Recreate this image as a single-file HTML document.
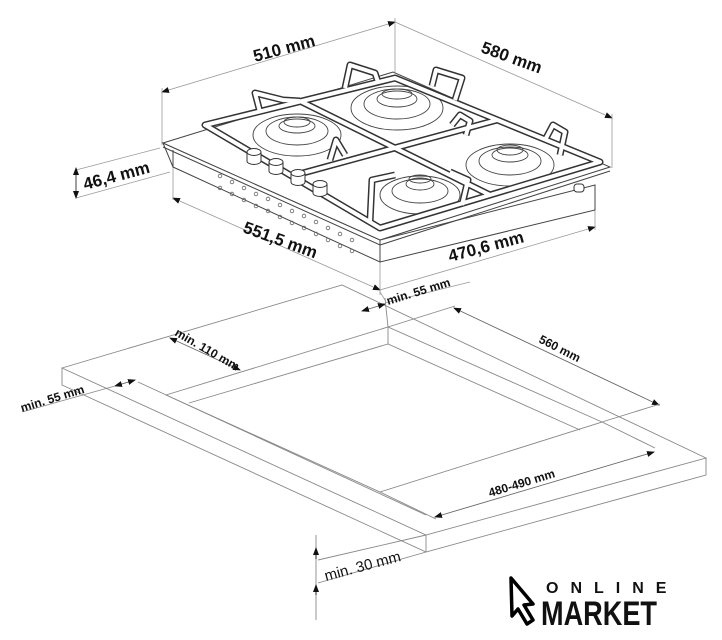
<!DOCTYPE html>
<html><head><meta charset="utf-8"><style>
html,body{margin:0;padding:0;background:#fff;}
svg{display:block;}
text{font-family:"Liberation Sans",Arial,sans-serif;fill:#111;}
</style></head><body>
<svg width="722" height="640" viewBox="0 0 722 640" xmlns="http://www.w3.org/2000/svg">
<defs>
<marker id="a" markerWidth="8" markerHeight="8" refX="7" refY="4" orient="auto-start-reverse" markerUnits="userSpaceOnUse"><path d="M0,1 L8,4 L0,7 z" fill="#111"/></marker>
</defs>
<g stroke="#999" stroke-width="0.8" fill="none">
<line x1="162" y1="92" x2="395" y2="22" marker-start="url(#a)" marker-end="url(#a)"/>
<line x1="395" y1="22" x2="612" y2="118" marker-end="url(#a)"/>
<line x1="162" y1="88" x2="162" y2="145"/>
<line x1="395" y1="18" x2="395" y2="72"/>
<line x1="612" y1="114" x2="612" y2="168"/>
<line x1="173" y1="198" x2="380" y2="290" marker-start="url(#a)" marker-end="url(#a)"/>
<line x1="380" y1="290" x2="595" y2="227" marker-end="url(#a)"/>
<line x1="173" y1="167" x2="173" y2="200"/>
<line x1="380" y1="262" x2="380" y2="295"/>
<line x1="595" y1="210" x2="595" y2="230"/>
<line x1="76" y1="170" x2="160" y2="148"/>
<line x1="76" y1="198" x2="170" y2="172"/>
<line x1="76" y1="168" x2="76" y2="198" marker-start="url(#a)" marker-end="url(#a)" stroke="#111"/>
<line x1="380" y1="292" x2="385" y2="300"/>
<line x1="385" y1="303" x2="470" y2="282"/>
</g>
<g stroke="#444" stroke-width="1" fill="#fff">
<polygon points="173,167 380,262 595,210 595,185 380,240 163,143"/>
<polygon points="163,143 393,72 610,167 380,240"/>
<polyline points="163,147 380,245 610,171" fill="none"/>
<line x1="380" y1="240" x2="380" y2="262"/>
<line x1="173" y1="150" x2="173" y2="167"/>
</g>
<g fill="none" stroke="#666" stroke-width="0.8">
<circle cx="220" cy="176" r="1.8"/><circle cx="232" cy="182" r="1.8"/><circle cx="244" cy="188" r="1.8"/><circle cx="256" cy="194" r="1.8"/><circle cx="268" cy="199" r="1.8"/><circle cx="280" cy="205" r="1.8"/><circle cx="292" cy="211" r="1.8"/><circle cx="304" cy="216" r="1.8"/><circle cx="316" cy="222" r="1.8"/><circle cx="328" cy="228" r="1.8"/><circle cx="340" cy="234" r="1.8"/><circle cx="352" cy="240" r="1.8"/>
<circle cx="220" cy="188" r="1.8"/><circle cx="232" cy="194" r="1.8"/><circle cx="244" cy="200" r="1.8"/><circle cx="256" cy="206" r="1.8"/><circle cx="268" cy="211" r="1.8"/><circle cx="280" cy="217" r="1.8"/><circle cx="292" cy="223" r="1.8"/><circle cx="304" cy="228" r="1.8"/><circle cx="316" cy="234" r="1.8"/><circle cx="328" cy="240" r="1.8"/><circle cx="340" cy="246" r="1.8"/><circle cx="352" cy="251" r="1.8"/>
</g>
<g fill="none" stroke="#444" stroke-width="0.9">
<ellipse cx="397" cy="108" rx="46" ry="22"/><ellipse cx="397" cy="104" rx="33" ry="15"/><ellipse cx="397" cy="99" rx="20" ry="8"/><ellipse cx="397" cy="94" rx="15" ry="5"/>
<ellipse cx="297" cy="135" rx="44" ry="21"/><ellipse cx="297" cy="131" rx="31" ry="14"/><ellipse cx="297" cy="126" rx="18" ry="7"/><ellipse cx="297" cy="122" rx="13" ry="5"/>
<ellipse cx="510" cy="165" rx="44" ry="21"/><ellipse cx="510" cy="161" rx="31" ry="14"/><ellipse cx="510" cy="155" rx="18" ry="7"/><ellipse cx="510" cy="150" rx="13" ry="5"/>
<ellipse cx="420" cy="195" rx="40" ry="19"/><ellipse cx="420" cy="191" rx="28" ry="12"/><ellipse cx="420" cy="184" rx="14" ry="6"/><ellipse cx="420" cy="179" rx="11" ry="4"/>
</g>
<g fill="none" stroke-linejoin="round">
<g stroke="#333" stroke-width="7">
<polygon points="205,125 395,78 600,162 380,228"/>
<line x1="300" y1="101" x2="490" y2="195"/>
<line x1="497" y1="120" x2="292" y2="176"/>
<polyline points="260,112 255,93 283,100 300,101"/>
<polyline points="345,88 350,65 375,73 378,82"/>
<polyline points="432,86 436,70 462,78 455,100"/>
<polyline points="545,140 553,125 565,132 560,155"/>
<polyline points="452,125 460,115 470,121 466,135"/>
<polyline points="370,222 372,180 395,175"/>
<polyline points="462,205 468,180 450,172"/>
<polyline points="330,160 336,140 345,155"/>
</g>
<g stroke="#fff" stroke-width="4">
<polygon points="205,125 395,78 600,162 380,228"/>
<line x1="300" y1="101" x2="490" y2="195"/>
<line x1="497" y1="120" x2="292" y2="176"/>
<polyline points="260,112 255,93 283,100 300,101"/>
<polyline points="345,88 350,65 375,73 378,82"/>
<polyline points="432,86 436,70 462,78 455,100"/>
<polyline points="545,140 553,125 565,132 560,155"/>
<polyline points="452,125 460,115 470,121 466,135"/>
<polyline points="370,222 372,180 395,175"/>
<polyline points="462,205 468,180 450,172"/>
<polyline points="330,160 336,140 345,155"/>
</g>
</g>
<g stroke="#333" stroke-width="1" fill="#fff">
<path d="M247,152 v9 a7,3.5 0 0 0 14,0 v-9"/><ellipse cx="254" cy="152" rx="7" ry="3.5"/>
<path d="M269,162 v9 a7,3.5 0 0 0 14,0 v-9"/><ellipse cx="276" cy="162" rx="7" ry="3.5"/>
<path d="M291,173 v9 a7,3.5 0 0 0 14,0 v-9"/><ellipse cx="298" cy="173" rx="7" ry="3.5"/>
<path d="M313,184 v9 a7,3.5 0 0 0 14,0 v-9"/><ellipse cx="320" cy="184" rx="7" ry="3.5"/>
<rect x="574" y="184" width="10" height="8" rx="3"/>
</g>
<g stroke="#888" stroke-width="0.9" fill="none">
<polygon points="62,368 342,285 706,458 426,535" fill="#fff"/>
<polyline points="62,368 62,385 426,552 706,475 706,458"/>
<line x1="426" y1="535" x2="426" y2="552"/>
<polygon points="166,395 388,327 602,422 380,492"/>
<line x1="388" y1="327" x2="388" y2="344"/>
<polyline points="189,403 388,344 580,430"/>
<line x1="454" y1="308" x2="659" y2="405" marker-start="url(#a)" marker-end="url(#a)" stroke="#666"/>
<line x1="388" y1="327" x2="455" y2="306"/>
<line x1="602" y1="422" x2="660" y2="404"/>
<line x1="435" y1="517" x2="654" y2="452" marker-start="url(#a)" marker-end="url(#a)" stroke="#666"/>
<line x1="380" y1="492" x2="436" y2="519"/>
<line x1="602" y1="422" x2="655" y2="448"/>
<line x1="170" y1="338" x2="240" y2="370" marker-start="url(#a)" marker-end="url(#a)" stroke="#666"/>
<line x1="138" y1="382" x2="426" y2="515"/>
<line x1="115" y1="386" x2="135" y2="380" marker-start="url(#a)" marker-end="url(#a)" stroke="#666"/>
<line x1="22" y1="412" x2="115" y2="386"/>
<line x1="362" y1="311" x2="385" y2="304" marker-start="url(#a)" marker-end="url(#a)" stroke="#666"/>
<line x1="385" y1="298" x2="388" y2="327"/>
<line x1="316" y1="535" x2="316" y2="620"/>
<line x1="316" y1="548" x2="316" y2="559" marker-start="url(#a)" stroke="#111"/>
<line x1="316" y1="585" x2="316" y2="595" marker-start="url(#a)" stroke="#111"/>
<line x1="318" y1="583" x2="426" y2="552"/>
<line x1="318" y1="560" x2="426" y2="535"/>
</g>
<g font-weight="bold">
<text x="255" y="62" font-size="17" transform="rotate(-15 255 62)">510 mm</text>
<text x="480" y="52" font-size="17" transform="rotate(20 480 52)">580 mm</text>
<text x="85" y="190" font-size="17" transform="rotate(-15 85 190)">46,4 mm</text>
<text x="242" y="232" font-size="17" transform="rotate(20 242 232)">551,5 mm</text>
<text x="450" y="262" font-size="17" transform="rotate(-15 450 262)">470,6 mm</text>
</g>
<g font-size="12" font-weight="bold">
<text x="388" y="305" transform="rotate(-17 388 305)">min. 55 mm</text>
<text x="174" y="335" transform="rotate(30 174 335)">min. 110 mm</text>
<text x="22" y="412" transform="rotate(-17 22 412)">min. 55 mm</text>
<text x="538" y="342" transform="rotate(27 538 342)">560 mm</text>
<text x="490" y="497" transform="rotate(-17 490 497)">480-490 mm</text>
<text x="326" y="581" font-size="15" font-weight="normal" transform="rotate(-15 326 581)">min. 30 mm</text>
</g>
<path d="M511,578 L533,604 L524,605 L533,620 L527,624 L518,609 L512,616 Z" fill="#fff" stroke="#000" stroke-width="3.5" stroke-linejoin="round"/>
<text x="546" y="593" font-size="16" font-weight="bold" letter-spacing="12">ONLINE</text>
<text x="0" y="0" font-size="30" font-weight="bold" textLength="116" lengthAdjust="spacingAndGlyphs" transform="translate(541 625) scale(1 1.15)">MARKET</text>
</svg>
</body></html>
